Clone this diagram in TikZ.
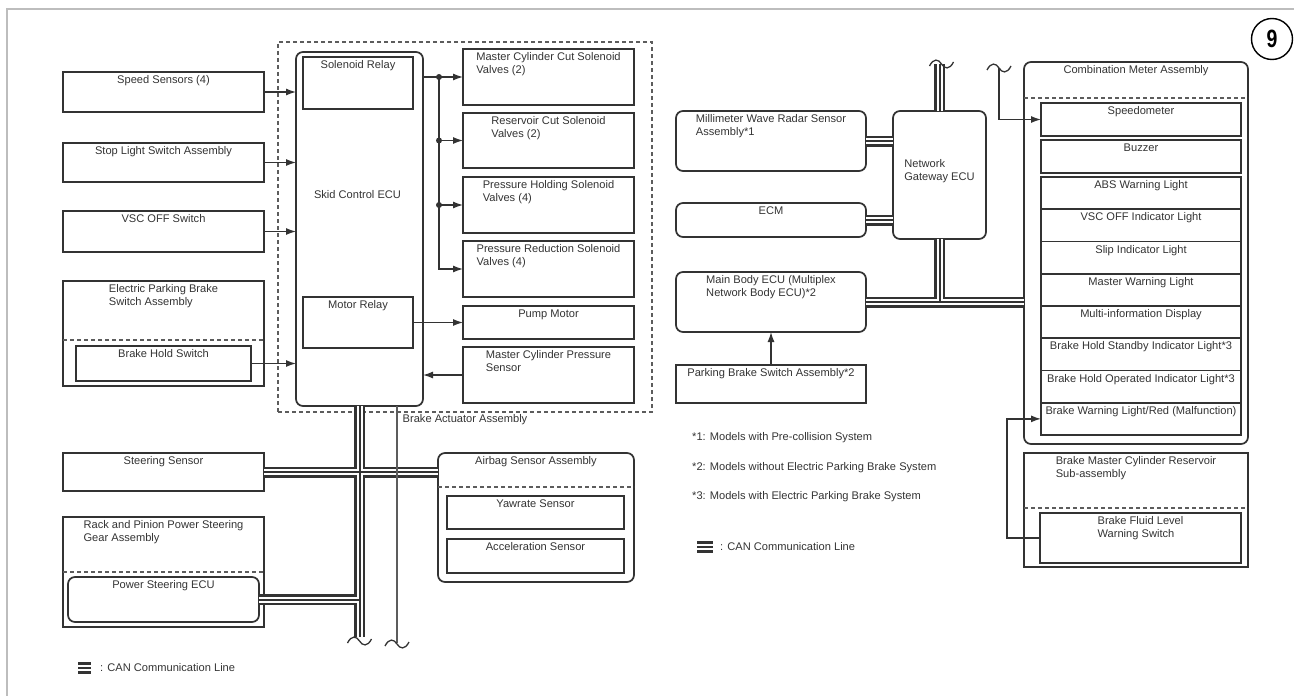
\documentclass[tikz,border=0pt]{standalone}
\usepackage{graphicx}
\usepackage{fontspec}
\setmainfont{Liberation Sans}
\usetikzlibrary{arrows.meta}
\definecolor{ink}{HTML}{333333}
\definecolor{framegray}{HTML}{BDBDBD}

\begin{document}
\begin{tikzpicture}[
  x=1pt, y=-1pt,
  font=\fontsize{11.1}{13}\selectfont, text=ink,
  >={Latex[length=10pt, width=7pt]},
  box/.style={draw=ink, line width=1.7, anchor=north west, inner sep=0, outer sep=0},
  rbox/.style={box, rounded corners=7},
  sz/.style 2 args={minimum width=#1, minimum height=#2},
  lbl/.style={anchor=north, align=left, inner sep=3.5},
  dbox/.style={box, draw=ink!80, line width=1.3, dash pattern=on 4 off 3},
  sep/.style={draw=ink!80, line width=1.3, dash pattern=on 4 off 3},
  wire/.style={draw=ink, line width=1.3},
  note/.style={anchor=west, inner sep=0},
  brk/.pic={\draw[ink, line width=1.3] (-12,2) .. controls (-8,-6) and (-3,-5) .. (0,0)
            .. controls (3,5) and (8,6) .. (12,-2);}
]
\useasboundingbox (0,0) rectangle (1294,696);
\draw[framegray, line width=1.5] (7,696) -- (7,9) -- (1294,9);
\node[circle, draw=black, line width=1.4, minimum size=41, inner sep=0, text=black,
      font=\fontsize{25}{25}\selectfont\bfseries] (sheet) at (1272,39) {\scalebox{0.78}[1]{9}};

% inputs on the left
\node[box, sz={201}{40}, label={[lbl]north:Speed Sensors (4)}] (speed) at (63,72) {};
\node[box, sz={201}{39}, label={[lbl]north:Stop Light Switch Assembly}] (stop) at (63,143) {};
\node[box, sz={201}{41}, label={[lbl]north:VSC OFF Switch}] (vsc) at (63,211) {};
\node[box, sz={201}{105}, label={[lbl]north:{Electric Parking Brake\\Switch Assembly}}] (epb) at (63,281) {};
\draw[sep] (epb.west |- 0,340) -- (epb.east |- 0,340);
\node[box, sz={175}{35}, label={[lbl]north:Brake Hold Switch}] (hold) at (76,346) {};

% brake actuator
\node[dbox, sz={374}{370}, label={[lbl, inner sep=2]south:Brake Actuator Assembly}] (act) at (278,42) {};
\node[rbox, sz={127}{354}] (ecu) at (296,52) {};
\node (ecul) at ([xshift=-2, yshift=34]ecu.center) {Skid Control ECU};
\node[box, sz={110}{52}, label={[lbl]north:Solenoid Relay}] (solrel) at (303,57) {};
\node[box, sz={110}{51}, label={[lbl]north:Motor Relay}] (motrel) at (303,297) {};
\node[box, sz={171}{56}, label={[lbl]north:{Master Cylinder Cut Solenoid\\Valves (2)}}] (mccut) at (463,49) {};
\node[box, sz={171}{55}, label={[lbl]north:{Reservoir Cut Solenoid\\Valves (2)}}] (rescut) at (463,113) {};
\node[box, sz={171}{56}, label={[lbl]north:{Pressure Holding Solenoid\\Valves (4)}}] (phold) at (463,177) {};
\node[box, sz={171}{56}, label={[lbl]north:{Pressure Reduction Solenoid\\Valves (4)}}] (pred) at (463,241) {};
\node[box, sz={171}{33}, label={[lbl]north:Pump Motor}] (pump) at (463,306) {};
\node[box, sz={171}{56}, label={[lbl]north:{Master Cylinder Pressure\\Sensor}}] (mcps) at (463,347) {};

% lower left
\node[box, sz={201}{38}, label={[lbl]north:Steering Sensor}] (steer) at (63,453) {};
\node[box, sz={201}{110}, label={[lbl]north:{Rack and Pinion Power Steering\\Gear Assembly}}] (rack) at (63,517) {};
\draw[sep] (rack.west |- 0,572) -- (rack.east |- 0,572);
\node[rbox, sz={191}{45}, label={[lbl]north:Power Steering ECU}] (psecu) at (68,577) {};
\node[rbox, sz={196}{129}, label={[lbl]north:Airbag Sensor Assembly}] (airbag) at (438,453) {};
\draw[sep] (airbag.west |- 0,487) -- (airbag.east |- 0,487);
\node[box, sz={177}{33}, label={[lbl]north:Yawrate Sensor}] (yaw) at (447,496) {};
\node[box, sz={177}{34}, label={[lbl]north:Acceleration Sensor}] (accel) at (447,539) {};

% right half
\node[rbox, sz={190}{60}, label={[lbl]north:{Millimeter Wave Radar Sensor\\Assembly*1}}] (radar) at (676,111) {};
\node[rbox, sz={190}{34}, label={[lbl]north:ECM}] (ecm) at (676,203) {};
\node[rbox, sz={93}{128}] (gw) at (893,111) {};
\node[align=left] (gwl) at ([yshift=4]gw.center) {Network\\Gateway ECU};
\node[rbox, sz={190}{60}, label={[lbl]north:{Main Body ECU (Multiplex\\Network Body ECU)*2}}] (body) at (676,272) {};
\node[box, sz={190}{38}, label={[lbl]north:Parking Brake Switch Assembly*2}] (pbs) at (676,365) {};

\node[note] (n1) at (692,438) {*1: Models with Pre-collision System};
\node[note] (n2) at (692,468) {*2: Models without Electric Parking Brake System};
\node[note] (n3) at (692,497) {*3: Models with Electric Parking Brake System};

% combination meter
\node[rbox, sz={224}{382}, label={[lbl]north:Combination Meter Assembly}] (meter) at (1024,62) {};
\draw[sep] (meter.west |- 0,98) -- (meter.east |- 0,98);
\node[box, sz={200}{33}, label={[lbl]north:Speedometer}] (speedo) at (1041,103) {};
\node[box, sz={200}{33}, label={[lbl]north:Buzzer}] (buzz) at (1041,140) {};
\foreach \t [count=\i from 0] in {ABS Warning Light, VSC OFF Indicator Light, Slip Indicator Light,
    Master Warning Light, Multi-information Display, Brake Hold Standby Indicator Light*3,
    Brake Hold Operated Indicator Light*3, Brake Warning Light/Red (Malfunction)}
  \node[box, sz={200}{32.25}, label={[lbl]north:\t}] (lamp\i) at (1041,{177+32.25*\i}) {};
\node[box, sz={224}{114}, label={[lbl]north:{Brake Master Cylinder Reservoir\\Sub-assembly}}] (res) at (1024,453) {};
\draw[sep] (res.west |- 0,508) -- (res.east |- 0,508);
\node[box, sz={201}{50}, label={[lbl]north:{Brake Fluid Level\\Warning Switch}}] (fluid) at (1040,513) {};

% CAN lines, drawn in layers so the junctions open up
\coordinate (busend) at (359.5,637);
\coordinate (gwtop) at (939.5,64);
\foreach \w/\c in {11/ink, 6/white, 2/ink} {
  \draw[line width=\w, \c] (ecu.south) -- (busend);
  \draw[line width=\w, \c] (steer.east) -- (steer.east -| airbag.west);
  \draw[line width=\w, \c] (psecu.east) -- (psecu.east -| busend);
  \draw[line width=\w, \c] (radar.east) -- (radar.east -| gw.west);
  \draw[line width=\w, \c] (ecm.east) -- (ecm.east -| gw.west);
  \draw[line width=\w, \c] (gw.north) -- (gwtop);
  \draw[line width=\w, \c] (gw.south) -- (gw.south |- body.east);
  \draw[line width=\w, \c] (body.east) -- (body.east -| meter.west);
}
\coordinate (wireend) at (397,643);
\draw[wire, ink!80] (ecu.south -| wireend) -- (wireend);
\pic at ([yshift=-4]busend) {brk};
\pic at ([yshift=-1]wireend) {brk};
\pic at ([xshift=2]gwtop) {brk};

% signal lines
\foreach \n in {speed, stop, vsc, hold}
  \draw[wire, ->] (\n.east) -- (\n.east -| ecu.west);
\coordinate (tap) at (439,0);
\draw[wire, ->] (ecu.east |- mccut.west) -- (mccut.west);
\draw[wire, ->] (tap |- mccut.west) -- (tap |- pred.west) -- (pred.west);
\foreach \n in {rescut, phold}
  \draw[wire, ->] (tap |- \n.west) -- (\n.west);
\foreach \n in {mccut, rescut, phold}
  \fill[ink] (tap |- \n.west) circle (3);
\draw[wire, ->] (motrel.east) -- (pump.west);
\draw[wire, ->] (mcps.west) -- (mcps.west -| ecu.east);
\draw[wire, ->] (pbs.north) -- (body.south);
\coordinate (cut1) at (999,68);
\draw[wire, ->] (cut1) |- (speedo.west);
\pic at (cut1) {brk};
\draw[wire, ->] (fluid.west) -- ++(-33,0) |- (lamp7.west);

% legends
\node[note] (leg1) at (100,668) {: CAN Communication Line};
\foreach \d in {-4.5,0,4.5}
  \draw[ink, line width=2.8] (78,{668+\d}) -- (91,{668+\d});
\node[note] (leg2) at (720,547) {: CAN Communication Line};
\foreach \d in {-4.5,0,4.5}
  \draw[ink, line width=2.8] (697,{547+\d}) -- (713,{547+\d});
\end{tikzpicture}
\end{document}
